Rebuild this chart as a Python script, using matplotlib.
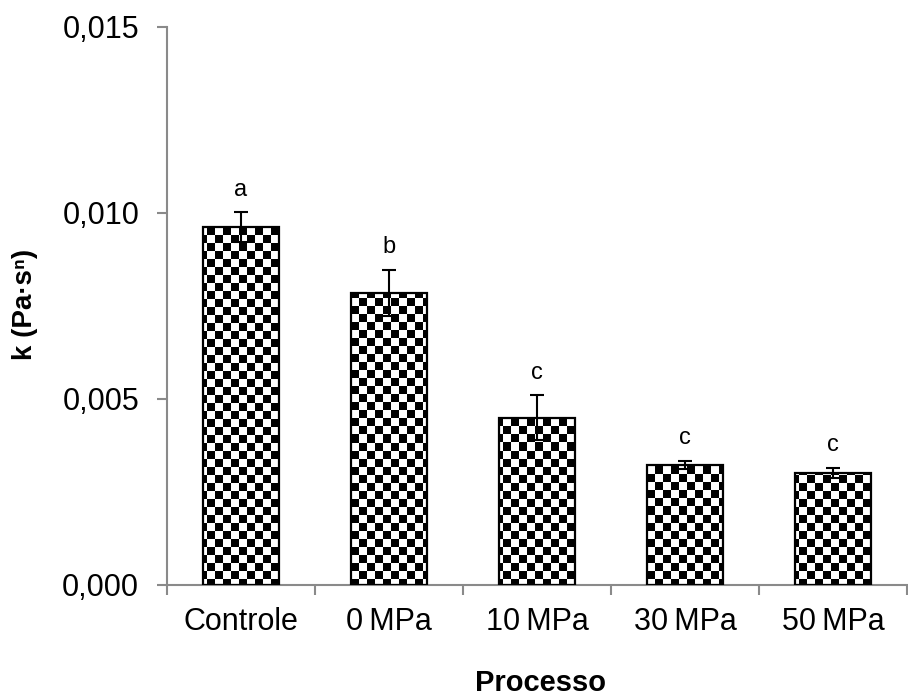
import numpy as np
import matplotlib
matplotlib.use('Agg')
import matplotlib.pyplot as plt
from matplotlib.ticker import FuncFormatter, FixedLocator

matplotlib.rcParams['font.family'] = ['Liberation Sans', 'DejaVu Sans']

processos = ['Controle', '0\u2009MPa', '10\u2009MPa', '30\u2009MPa', '50\u2009MPa']
k_media = [0.00962, 0.00785, 0.00450, 0.00323, 0.00301]
k_erro = [0.00040, 0.00063, 0.00060, 0.00010, 0.00014]
letras = ['a', 'b', 'c', 'c', 'c']
y_ticks = [0.0, 0.005, 0.010, 0.015]

W, H, DPI = 908, 698, 100
ax_left, ax_bottom, ax_w, ax_h = 167, 113, 740, 558
cell = 8

fig = plt.figure(figsize=(W / DPI, H / DPI), dpi=DPI)
ax = fig.add_axes([ax_left / W, ax_bottom / H, ax_w / W, ax_h / H])

x = np.arange(len(processos))
xlim = (-0.5, len(processos) - 0.5)
ylim = (0, 0.015)

bars = ax.bar(x, k_media, width=0.51, color='white', edgecolor='none', zorder=2)

# checkerboard fill, one pixel of the image per screen pixel, clipped to each bar
rr, cc = np.mgrid[0:ax_h, 0:ax_w]
board = ((rr // cell + cc // cell) % 2).astype(float)
for b in bars:
    im = ax.imshow(board, extent=[xlim[0], xlim[1], ylim[0], ylim[1]],
                   cmap='gray', vmin=0, vmax=1, interpolation='nearest',
                   aspect='auto', origin='upper', zorder=2.5)
    im.set_clip_path(b)

ax.bar(x, k_media, width=0.51, fill=False, edgecolor='black', linewidth=1.6, zorder=3)
ax.errorbar(x, k_media, yerr=k_erro, fmt='none', ecolor='black',
            elinewidth=1.5, capsize=5, capthick=1.5, zorder=4)

for xi, m, e, s in zip(x, k_media, k_erro, letras):
    ax.annotate(s, (xi, m + e), xytext=(0, 12), textcoords='offset points',
                ha='center', va='baseline', fontsize=17)

ax.set_xlim(*xlim)
ax.set_ylim(*ylim)

for side in ['top', 'right']:
    ax.spines[side].set_visible(False)
for side in ['left', 'bottom']:
    ax.spines[side].set_color('#8a8a8a')
    ax.spines[side].set_linewidth(1.5)

ax.set_yticks(y_ticks)
ax.yaxis.set_major_formatter(FuncFormatter(lambda v, p: ('%.3f' % v).replace('.', ',')))
ax.tick_params(axis='y', length=7, width=1.5, color='#8a8a8a', pad=13, labelsize=22)

ax.set_xticks(x)
ax.set_xticklabels(processos)
ax.xaxis.set_minor_locator(FixedLocator(np.arange(len(processos) + 1) - 0.5))
ax.tick_params(axis='x', which='major', length=0, pad=16, labelsize=22)
ax.tick_params(axis='x', which='minor', length=7, width=1.5, color='#8a8a8a')

ax.set_ylabel('k (Pa\u00b7s\u207f)', fontsize=20, fontweight='bold', va='center')
ax.yaxis.set_label_coords(-0.192, 0.502)
ax.set_xlabel('Processo', fontsize=21, fontweight='bold', va='center')
ax.xaxis.set_label_coords(0.505, -(683 - 585) / ax_h)

fig.savefig('out.png', dpi=DPI)
